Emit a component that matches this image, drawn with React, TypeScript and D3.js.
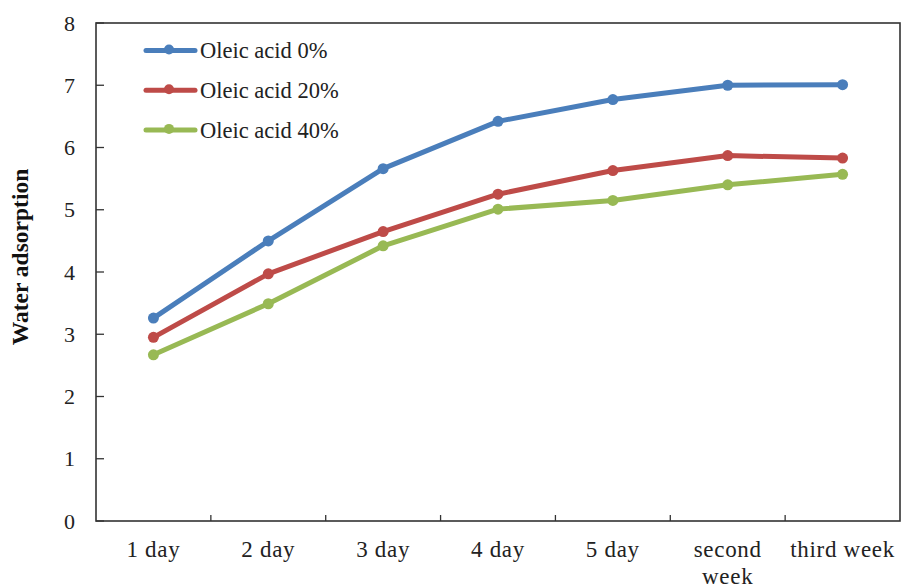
import React from "react";
import * as d3 from "d3";

const categories = ["1 day", "2 day", "3 day", "4 day", "5 day", "second week", "third week"];
const seriesNames = ["Oleic acid 0%", "Oleic acid 20%", "Oleic acid 40%"];
const oleic0 = [3.26, 4.5, 5.66, 6.42, 6.77, 7.0, 7.01];
const oleic20 = [2.95, 3.97, 4.65, 5.25, 5.63, 5.87, 5.83];
const oleic40 = [2.67, 3.49, 4.42, 5.01, 5.15, 5.4, 5.57];
const yTicks = [0, 1, 2, 3, 4, 5, 6, 7, 8];
const colors = ["#4a7ebb", "#be4b48", "#98b954"];

const W = 904;
const H = 588;
const left = 96;
const right = 900;
const top = 23;
const bottom = 521;

export default function App() {
  const x = d3.scaleBand<string>().domain(categories).range([left, right]);
  const y = d3.scaleLinear().domain([0, 8]).range([bottom, top]);
  const cx = (c: string) => (x(c) ?? 0) + x.bandwidth() / 2;
  const line = d3
    .line<number>()
    .x((_, i) => cx(categories[i]))
    .y((v) => y(v));
  const series = [oleic0, oleic20, oleic40];
  const font = "'Liberation Serif', 'Times New Roman', serif";

  return (
    <svg
      width={W}
      height={H}
      style={{ position: "absolute", left: 0, top: 0, background: "#fff" }}
      fontFamily={font}
    >
      {/* plot frame */}
      <rect x={left} y={top} width={right - left} height={bottom - top} fill="none" stroke="#333" strokeWidth={1.6} />

      {/* y ticks and labels */}
      {yTicks.map((t) => (
        <g key={t}>
          <line x1={left} x2={left + 8} y1={y(t)} y2={y(t)} stroke="#333" strokeWidth={1.3} />
          <text x={75} y={y(t)} dy="0.35em" textAnchor="end" fontSize={22} fill="#222">
            {t}
          </text>
        </g>
      ))}

      {/* x ticks between categories */}
      {categories.slice(1).map((c) => (
        <line key={c} x1={x(c)} x2={x(c)} y1={bottom} y2={bottom - 6} stroke="#333" strokeWidth={1.3} />
      ))}

      {/* x labels */}
      {categories.map((c) => {
        if (c === "second week") {
          return (
            <text key={c} x={cx(c)} y={557} textAnchor="middle" fontSize={23} letterSpacing={0.7} fill="#222">
              <tspan x={cx(c)}>second</tspan>
              <tspan x={cx(c)} dy={27}>week</tspan>
            </text>
          );
        }
        return (
          <text key={c} x={cx(c)} y={557} textAnchor="middle" fontSize={23} letterSpacing={0.7} fill="#222">
            {c}
          </text>
        );
      })}

      {/* y axis title */}
      <text
        transform={`translate(28, 257) rotate(-90)`}
        textAnchor="middle"
        fontSize={23.5}
        fontWeight="bold"
        fill="#111"
      >
        Water adsorption
      </text>

      {/* series */}
      {series.map((vals, si) => (
        <g key={si}>
          <path d={line(vals) ?? ""} fill="none" stroke={colors[si]} strokeWidth={5} strokeLinejoin="round" strokeLinecap="round" />
          {vals.map((v, i) => (
            <circle key={i} cx={cx(categories[i])} cy={y(v)} r={5.5} fill={colors[si]} />
          ))}
        </g>
      ))}

      {/* legend */}
      {seriesNames.map((n, i) => {
        const ly = 50.5 + i * 39.7;
        return (
          <g key={n}>
            <line x1={146} x2={195} y1={ly} y2={ly} stroke={colors[i]} strokeWidth={5} strokeLinecap="round" />
            <circle cx={169} cy={ly - 1} r={5} fill={colors[i]} />
            <text x={200} y={ly} dy="0.35em" fontSize={22.5} fill="#222">
              {n}
            </text>
          </g>
        );
      })}
    </svg>
  );
}
